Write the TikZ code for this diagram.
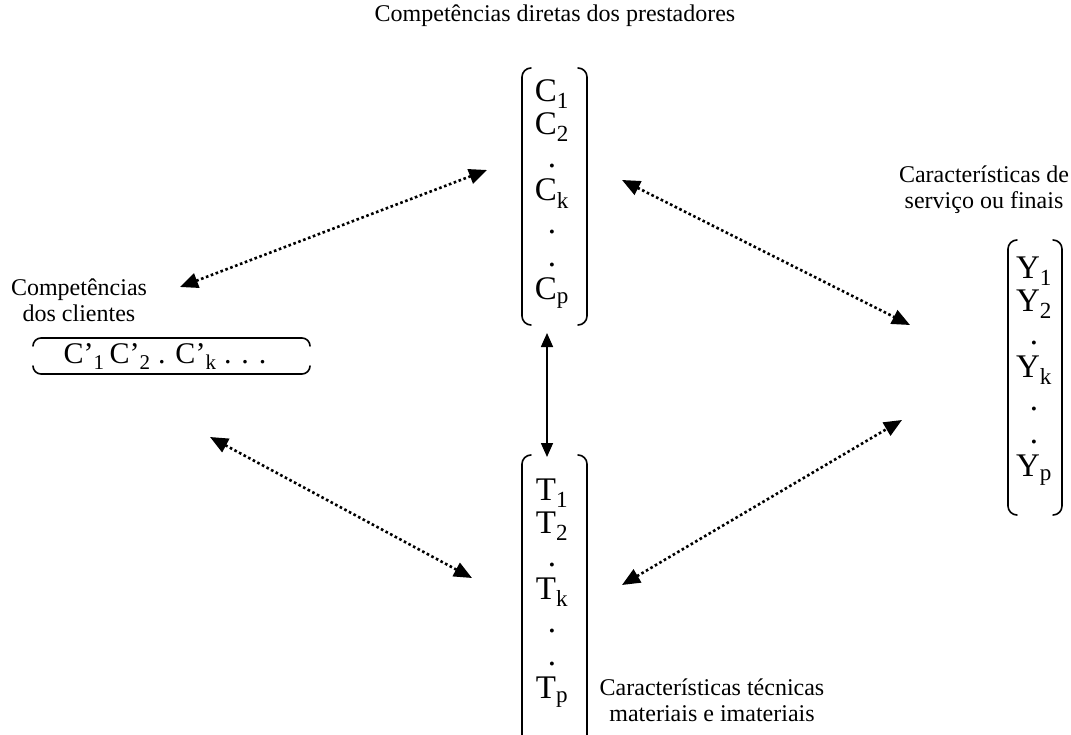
\documentclass[tikz,border=0pt]{standalone}
\usepackage{fontspec}
\setmainfont{Liberation Serif}
\usetikzlibrary{arrows.meta}
\begin{document}
\begin{tikzpicture}[x=1pt,y=-1pt,
  lbl/.style={font=\fontsize{24}{26}\selectfont, align=center, inner sep=0pt},
  col/.style={font=\fontsize{33}{33}\selectfont, align=center, inner sep=0pt},
  brk/.style={line width=1.6pt, line cap=round},
  link/.style={line width=2.6pt, dash pattern=on 2.6pt off 2.6pt,
    {Triangle[length=18pt,width=15pt]}-{Triangle[length=18pt,width=15pt]}},
  solidlink/.style={line width=1.6pt,
    {Triangle[length=14pt,width=12pt]}-{Triangle[length=14pt,width=12pt]}}
]
\useasboundingbox (0,0) rectangle (1071,735);

% headings
\node[lbl] (tC) at (555,16) {Competências diretas dos prestadores};
\node[lbl] (tCl) at (79,300) {Competências\\dos clientes};
\node[lbl] (tY) at (984,190) {Características de\\serviço ou finais};
\node[lbl] (tT) at (712,700) {Características técnicas\\materiais e imateriais};

% column vectors
\node[col] (vC) at (552,194) {C\textsubscript{1}\\C\textsubscript{2}\\.\\C\textsubscript{k}\\.\\.\\C\textsubscript{p}};
\node[col] (vT) at (552,593) {T\textsubscript{1}\\T\textsubscript{2}\\.\\T\textsubscript{k}\\.\\.\\T\textsubscript{p}};
\node[col] (vY) at (1034,371) {Y\textsubscript{1}\\Y\textsubscript{2}\\.\\Y\textsubscript{k}\\.\\.\\Y\textsubscript{p}};
\node[font=\fontsize{30}{34}\selectfont, inner sep=0pt] (vCl) at (165,357)
  {C’\textsubscript{1}\,C’\textsubscript{2} . C’\textsubscript{k} . . .};

% parentheses round the column vectors (y grows downwards here)
\draw[brk] (531,68) arc[start angle=270,end angle=180,radius=9] -- (522,316) arc[start angle=180,end angle=90,radius=9];
\draw[brk] (578,68) arc[start angle=270,end angle=360,radius=9] -- (587,316) arc[start angle=0,end angle=90,radius=9];

\draw[brk] (531,455) arc[start angle=270,end angle=180,radius=9] -- (522,740);
\draw[brk] (578,455) arc[start angle=270,end angle=360,radius=9] -- (587,740);

\draw[brk] (1017,240) arc[start angle=270,end angle=180,radius=9] -- (1008,506) arc[start angle=180,end angle=90,radius=9];
\draw[brk] (1053,240) arc[start angle=270,end angle=360,radius=9] -- (1062,506) arc[start angle=0,end angle=90,radius=9];

% horizontal parentheses round the clients' row
\draw[brk] (33,346) arc[start angle=180,end angle=270,radius=8] -- (302,338) arc[start angle=270,end angle=360,radius=8];
\draw[brk] (33,366) arc[start angle=180,end angle=90,radius=8] -- (302,374) arc[start angle=90,end angle=0,radius=8];

% connector ends
\coordinate (aCl) at (180,287);
\coordinate (aC1) at (487,170);
\coordinate (aC2) at (622,180);
\coordinate (aY1) at (910,325);
\coordinate (aCl2) at (210,437);
\coordinate (aT1) at (472,578);
\coordinate (aT2) at (622,585);
\coordinate (aY2) at (902,420);
\coordinate (aCb) at (547,333);
\coordinate (aTt) at (547,457);

\draw[link] (aCl) -- (aC1);
\draw[link] (aC2) -- (aY1);
\draw[link] (aCl2) -- (aT1);
\draw[link] (aT2) -- (aY2);
\draw[solidlink] (aCb) -- (aTt);
\end{tikzpicture}
\end{document}
